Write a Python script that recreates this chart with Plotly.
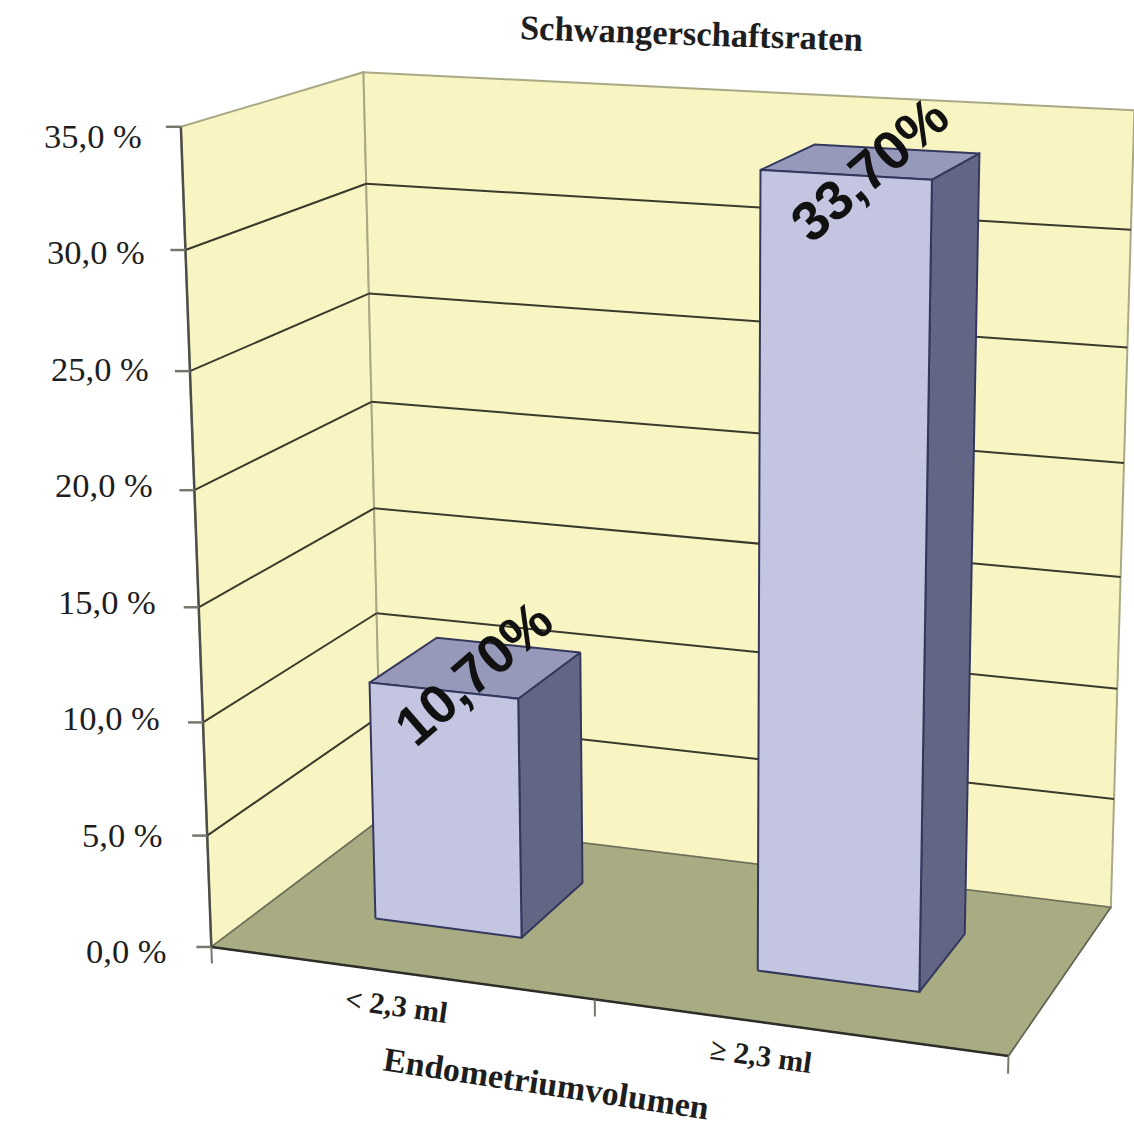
import numpy as np
import plotly.graph_objects as go

# Chart content
title = "Schwangerschaftsraten"
x_title = "Endometriumvolumen"
categories = ["&lt; 2,3 ml", "≥ 2,3 ml"]
values = [10.7, 33.7]
value_labels = ["10,70%", "33,70%"]
y_ticks = [0, 5, 10, 15, 20, 25, 30, 35]
y_tick_labels = ["0,0 %", "5,0 %", "10,0 %", "15,0 %", "20,0 %", "25,0 %", "30,0 %", "35,0 %"]
z_max = 35

# Bar footprints on the floor, as fractions of floor width and depth
bar_x = [(0.148, 0.344), (0.651, 0.852)]
bar_depth = [(0.31, 0.72), (0.30, 0.70)]
category_pos = [0.246, 0.705]
value_label_shift = [(30, -18), (24, -6)]

# Colours
WALL = "#F8F5C3"
WALL_EDGE = "#A9A985"
FLOOR = "#A9AB83"
FRONT = "#C3C5E1"
SIDE = "#626684"
TOP = "#9799BA"
BAR_EDGE = "#33385C"
GRID = "#3A3A2C"
AXIS = "#4E4E48"
TEXT = "#1E1E1E"
SERIF = "Liberation Serif"

# Camera of the 3-D view: world (width, depth, value) -> page pixels
CAMERA = np.array([
    [723.3565, 209.7003, -1.167226, 211.3379],
    [31.77846, -44.00285, -23.64133, 946.955],
    [-0.07313084, 0.1033345, -0.001640435, 1.0],
])


def project(w, d, z):
    q = CAMERA @ np.array([w, d, z, 1.0])
    return q[0] / q[2], q[1] / q[2]


fig = go.Figure()


def face(corners, fill, edge, width=2):
    pts = [project(*c) for c in corners]
    pts.append(pts[0])
    fig.add_trace(go.Scatter(
        x=[p[0] for p in pts], y=[p[1] for p in pts], mode="lines", fill="toself",
        fillcolor=fill, line=dict(color=edge, width=width), hoverinfo="skip", showlegend=False,
    ))


def segment(a, b, color, width):
    pa, pb = project(*a), project(*b)
    fig.add_trace(go.Scatter(
        x=[pa[0], pb[0]], y=[pa[1], pb[1]], mode="lines",
        line=dict(color=color, width=width), hoverinfo="skip", showlegend=False,
    ))


# Walls and floor
face([(0, 0, 0), (0, 1, 0), (0, 1, z_max), (0, 0, z_max)], WALL, WALL_EDGE, 2)
face([(0, 1, 0), (1, 1, 0), (1, 1, z_max), (0, 1, z_max)], WALL, WALL_EDGE, 2)
face([(0, 0, 0), (1, 0, 0), (1, 1, 0), (0, 1, 0)], FLOOR, "#6E6E58", 1.5)

# Gridlines around the two walls
for z in y_ticks[1:-1]:
    segment((0, 0, z), (0, 1, z), GRID, 2)
    segment((0, 1, z), (1, 1, z), GRID, 2)

# Axis lines and tick marks
segment((0, 0, 0), (0, 0, z_max), AXIS, 2.5)
segment((0, 0, 0), (1, 0, 0), "#2E2E28", 2.5)
segment((1, 0, 0), (1, 1, 0), "#666658", 1.5)
for i in range(3):
    w = i / 2
    segment((w, 0, 0), (w, 0, -0.75), "#77776E", 2)
for z, label in zip(y_ticks, y_tick_labels):
    px, py = project(0, 0, z)
    fig.add_trace(go.Scatter(
        x=[px - 15, px], y=[py, py], mode="lines",
        line=dict(color="#77776E", width=2.5), hoverinfo="skip", showlegend=False,
    ))
    # The label column runs parallel to the axis with its own even spacing
    fig.add_annotation(
        x=169 - z * 0.72, y=951 - z * 23.3, text=label, showarrow=False,
        xanchor="right", yanchor="middle",
        font=dict(family=SERIF, size=34.5, color=TEXT),
    )

# Bars, back faces first
for (x0, x1), (d0, d1), v, label, (dx, dy) in zip(bar_x, bar_depth, values, value_labels, value_label_shift):
    face([(x1, d0, 0), (x1, d1, 0), (x1, d1, v), (x1, d0, v)], SIDE, BAR_EDGE)
    face([(x0, d0, v), (x1, d0, v), (x1, d1, v), (x0, d1, v)], TOP, BAR_EDGE)
    face([(x0, d0, 0), (x1, d0, 0), (x1, d0, v), (x0, d0, v)], FRONT, BAR_EDGE)
    px, py = project((x0 + x1) / 2, d0, v)
    fig.add_annotation(
        x=px + dx, y=py + dy, text=f"<b>{label}</b>", showarrow=False, textangle=-41,
        font=dict(family="Liberation Sans", size=55, color="#111111"),
    )

# Category labels sit just in front of the floor edge
for c, w in zip(categories, category_pos):
    px, py = project(w, 0, 0)
    fig.add_annotation(
        x=px, y=py + 33, text=f"<b>{c}</b>", showarrow=False, textangle=8,
        font=dict(family=SERIF, size=30, color=TEXT),
    )

fig.add_annotation(
    x=546, y=1083, text=f"<b>{x_title}</b>", showarrow=False, textangle=8.6,
    font=dict(family=SERIF, size=34, color=TEXT),
)
fig.add_annotation(
    x=691, y=33, text=f"<b>{title}</b>", showarrow=False, textangle=2,
    font=dict(family=SERIF, size=34.5, color=TEXT),
)

fig.update_layout(
    width=1134, height=1121, margin=dict(l=0, r=0, t=0, b=0),
    paper_bgcolor="white", plot_bgcolor="white", showlegend=False,
    xaxis=dict(range=[0, 1134], visible=False),
    yaxis=dict(range=[1121, 0], visible=False),
)
fig.write_html("out.html")
